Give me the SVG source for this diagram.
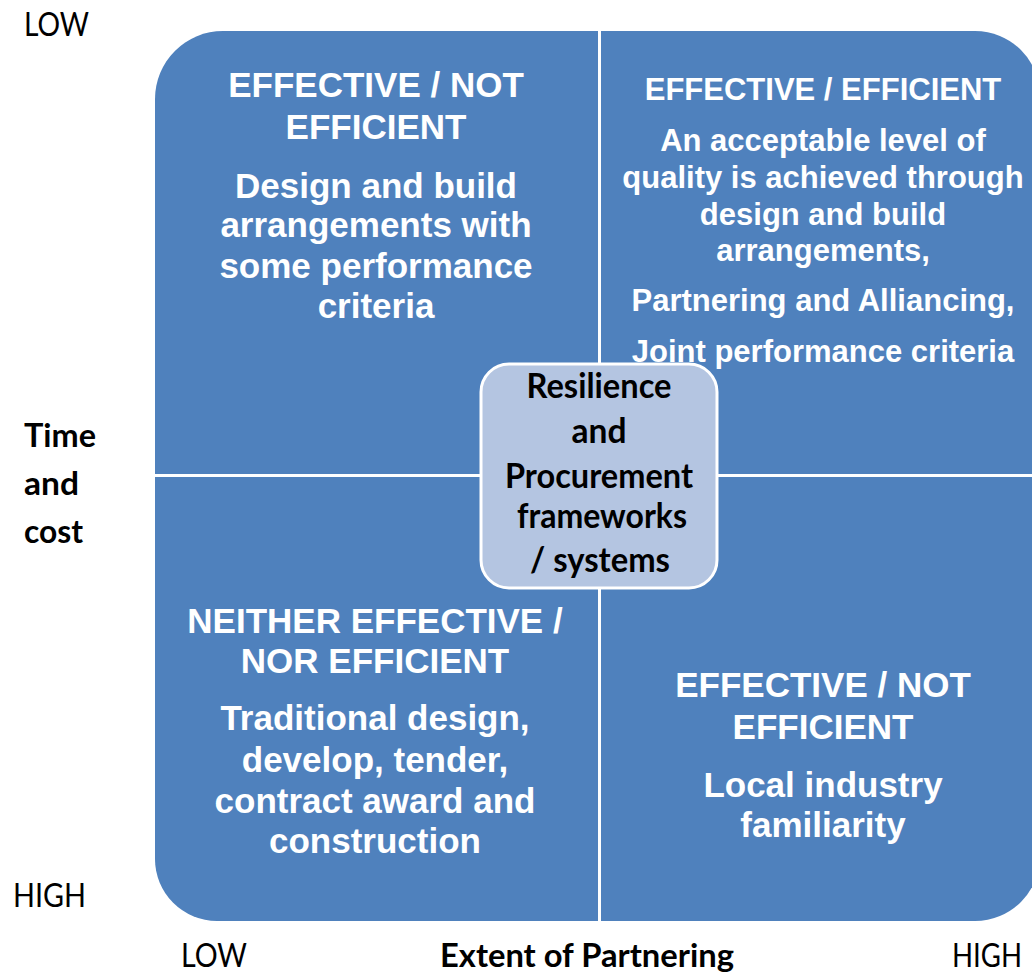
<svg xmlns="http://www.w3.org/2000/svg" width="1032" height="976" viewBox="0 0 1032 976">
<style>
.q{fill:#4f81bd}
.qt{font-family:"Liberation Sans",Arial,sans-serif;font-weight:bold;fill:#ffffff;text-anchor:middle}
.ax{font-family:Lato,"Open Sans",sans-serif;font-size:33px;fill:#000000}
.axb{font-family:Lato,"Open Sans",sans-serif;font-size:33px;font-weight:bold;fill:#000000}
.ct{font-family:Lato,"Open Sans",sans-serif;font-size:34px;font-weight:bold;fill:#000000;text-anchor:middle}
</style>
<rect width="1032" height="976" fill="#ffffff"/>
<g id="quadrant-top-left">
<path class="q" d="M155,99 A68,68 0 0 1 223,31 H598 V474 H155 Z"/>
<g class="qt" font-size="35">
<text x="376" y="97">EFFECTIVE / NOT</text>
<text x="376" y="139">EFFICIENT</text>
<text x="376" y="198">Design and build</text>
<text x="376" y="237">arrangements with</text>
<text x="376" y="278">some performance</text>
<text x="376" y="318">criteria</text>
</g>
</g>
<g id="quadrant-top-right">
<path class="q" d="M601,31 H975 A65,65 0 0 1 1040,96 V474 H601 Z"/>
<g class="qt" font-size="31">
<text x="823" y="100">EFFECTIVE / EFFICIENT</text>
<text x="823" y="151">An acceptable level of</text>
<text x="823" y="188">quality is achieved through</text>
<text x="823" y="225">design and build</text>
<text x="823" y="261">arrangements,</text>
<text x="823" y="311">Partnering and Alliancing,</text>
<text x="823" y="362">Joint performance criteria</text>
</g>
</g>
<g id="quadrant-bottom-left">
<path class="q" d="M155,477 H598 V921 H217 A62,62 0 0 1 155,859 Z"/>
<g class="qt" font-size="35">
<text x="375" y="633">NEITHER EFFECTIVE /</text>
<text x="375" y="673">NOR EFFICIENT</text>
<text x="375" y="730">Traditional design,</text>
<text x="375" y="772">develop, tender,</text>
<text x="375" y="813">contract award and</text>
<text x="375" y="853">construction</text>
</g>
</g>
<g id="quadrant-bottom-right">
<path class="q" d="M601,477 H1040 V856 A65,65 0 0 1 975,921 H601 Z"/>
<g class="qt" font-size="35">
<text x="823" y="697">EFFECTIVE / NOT</text>
<text x="823" y="739">EFFICIENT</text>
<text x="823" y="797">Local industry</text>
<text x="823" y="837">familiarity</text>
</g>
</g>
<g id="connectors"></g>
<g id="center">
<rect x="481" y="364" width="236" height="224" rx="28" ry="28" fill="#b4c5e1" stroke="#ffffff" stroke-width="3"/>
<text class="ct" x="599" y="398" textLength="145" lengthAdjust="spacingAndGlyphs">Resilience</text>
<text class="ct" x="599" y="443" textLength="55" lengthAdjust="spacingAndGlyphs">and</text>
<text class="ct" x="599" y="488" textLength="188" lengthAdjust="spacingAndGlyphs">Procurement</text>
<text class="ct" x="602" y="528" textLength="170" lengthAdjust="spacingAndGlyphs">frameworks</text>
<text class="ct" x="600" y="572" textLength="140" lengthAdjust="spacingAndGlyphs">/ systems</text>
</g>
<g id="axis-labels">
<text class="ax" x="24" y="36" textLength="65" lengthAdjust="spacingAndGlyphs">LOW</text>
<text class="axb" x="24" y="447" textLength="72" lengthAdjust="spacingAndGlyphs">Time</text>
<text class="axb" x="24" y="495" textLength="55" lengthAdjust="spacingAndGlyphs">and</text>
<text class="axb" x="24" y="543" textLength="59" lengthAdjust="spacingAndGlyphs">cost</text>
<text class="ax" x="13" y="907" textLength="73" lengthAdjust="spacingAndGlyphs">HIGH</text>
<text class="ax" x="181" y="967" textLength="66" lengthAdjust="spacingAndGlyphs">LOW</text>
<text class="axb" x="440" y="967" textLength="294" lengthAdjust="spacingAndGlyphs">Extent of Partnering</text>
<text class="ax" x="952" y="967" textLength="70" lengthAdjust="spacingAndGlyphs">HIGH</text>
</g>
</svg>
